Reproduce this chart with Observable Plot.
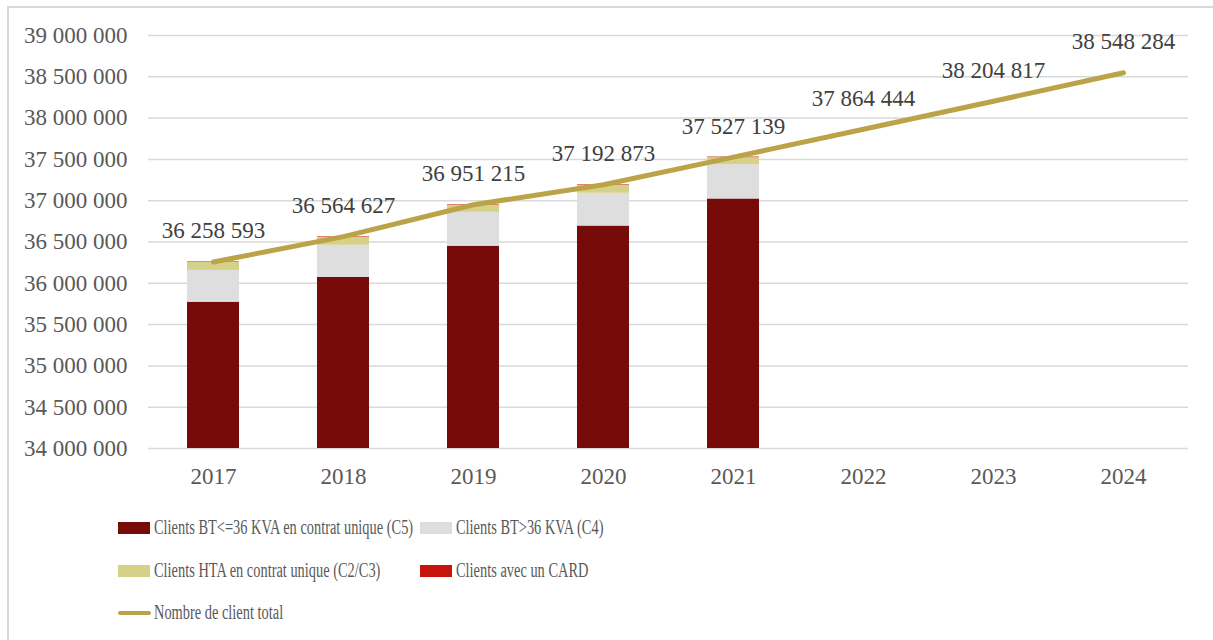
<!DOCTYPE html>
<html>
<head>
<meta charset="utf-8">
<script src="https://cdn.jsdelivr.net/npm/d3@7"></script>
<script src="https://cdn.jsdelivr.net/npm/@observablehq/plot@0.6"></script>
<style>
  html, body { margin: 0; padding: 0; background: #fff; }
  body { width: 1213px; height: 640px; position: relative; overflow: hidden; font-family: "Liberation Serif", "DejaVu Serif", serif; }
  #frame { position: absolute; left: 7px; top: 6px; width: 1240px; height: 700px; border: 2px solid #d9d9d9; box-sizing: border-box; }
  #chart { position: absolute; left: 0; top: 0; }
  .lg { position: absolute; display: flex; align-items: center; font-size: 20px; color: #595959; white-space: nowrap; }
  .lg .tx { display: inline-block; font-size: 20px; transform: scaleX(0.72); transform-origin: left center; }
  .sw { display: inline-block; width: 32px; height: 12px; margin-right: 4px; flex: none; }
  .swl { display: inline-block; width: 33px; height: 4px; border-radius: 2px; margin-right: 3px; flex: none; }
</style>
</head>
<body>
<div id="frame"></div>
<div id="chart"></div>
<div id="legend"></div>
<script>
// ---- data ----
const years = ["2017", "2018", "2019", "2020", "2021", "2022", "2023", "2024"];
const barYears = ["2017", "2018", "2019", "2020", "2021"];
const seriesNames = [
  "Clients BT<=36 KVA en contrat unique (C5)",
  "Clients BT>36 KVA (C4)",
  "Clients HTA en contrat unique (C2/C3)",
  "Clients avec un CARD"
];
const seriesColors = ["#770b09", "#dedede", "#d6d188", "#c8120e"];
const c5 = [35771000, 36071000, 36449000, 36693000, 37021000];
const c4 = [385000, 389000, 410000, 397000, 414000];
const hta = [96000, 98000, 87000, 98000, 87000];
const card = [6000, 6000, 6000, 6000, 6000];
const totalName = "Nombre de client total";
const totalColor = "#bba448";
const total = [36258593, 36564627, 36951215, 37192873, 37527139, 37864444, 38204817, 38548284];
const yTicks = [34000000, 34500000, 35000000, 35500000, 36000000, 36500000, 37000000, 37500000, 38000000, 38500000, 39000000];

// ---- build tables ----
const seriesValues = [c5, c4, hta, card];
const barRows = [];
barYears.forEach((yr, i) => {
  seriesNames.forEach((s, j) => barRows.push({year: yr, serie: s, value: seriesValues[j][i]}));
});
const lineRows = years.map((yr, i) => ({year: yr, total: total[i]}));
const fmt = v => d3.format(",")(v).replace(/,/g, " ");

const chart = Plot.plot({
  width: 1213,
  height: 500,
  marginTop: 35,
  marginBottom: 52,
  marginLeft: 148,
  marginRight: 25,
  style: { fontFamily: "'Liberation Serif', serif", fontSize: "23px", color: "#595959", background: "transparent" },
  x: { domain: years, paddingInner: 0.6, paddingOuter: 0.3, label: null, tickSize: 0, tickPadding: 19 },
  y: { domain: [34000000, 39000000], ticks: yTicks, tickFormat: fmt, label: null, tickSize: 0, tickPadding: 21 },
  color: { domain: seriesNames, range: seriesColors },
  marks: [
    Plot.ruleY(yTicks, { stroke: "#d9d9d9", strokeWidth: 1.5 }),
    Plot.barY(barRows, { x: "year", y: "value", fill: "serie", clip: true }),
    Plot.line(lineRows, { x: "year", y: "total", stroke: totalColor, strokeWidth: 5, strokeLinecap: "round", strokeLinejoin: "round" }),
    Plot.text(lineRows, { x: "year", y: "total", text: d => fmt(d.total), dy: -31, fill: "#404040", fontSize: 23 })
  ]
});
document.getElementById("chart").appendChild(chart);

// ---- legend ----
const legend = document.getElementById("legend");
const pos = [
  {left: 118, top: 516},
  {left: 420, top: 516},
  {left: 118, top: 559},
  {left: 420, top: 559}
];
seriesNames.forEach((s, i) => {
  const d = document.createElement("div");
  d.className = "lg";
  d.style.left = pos[i].left + "px";
  d.style.top = pos[i].top + "px";
  d.innerHTML = `<span class="sw" style="background:${seriesColors[i]}"></span><span class="tx"></span>`;
  d.lastChild.textContent = s;
  legend.appendChild(d);
});
const dl = document.createElement("div");
dl.className = "lg";
dl.style.left = "118px";
dl.style.top = "601px";
dl.innerHTML = `<span class="swl" style="background:${totalColor}"></span><span class="tx"></span>`;
dl.lastChild.textContent = totalName;
legend.appendChild(dl);
</script>
</body>
</html>
